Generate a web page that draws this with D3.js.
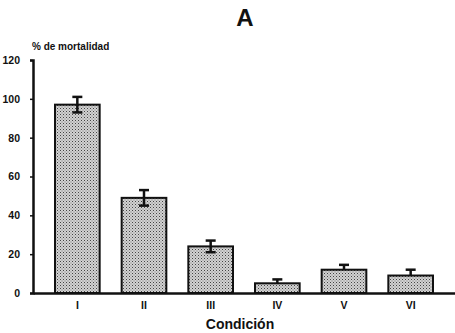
<!DOCTYPE html>
<html>
<head>
<meta charset="utf-8">
<script src="https://cdn.jsdelivr.net/npm/d3@7"></script>
<style>
    body { margin: 0; background: #fff; }
    svg text { font-family: "Liberation Sans", Arial, sans-serif; font-weight: bold; fill: #111; }
</style>
</head>
<body>
<div id="chart"></div>
<script>
(function () {

    'use strict';

    var categories = ['I', 'II', 'III', 'IV', 'V', 'VI'];
    var mortality = [97, 49, 24, 5, 12, 9];
    var errUp = [4, 4, 3, 2, 2.5, 3];
    var errDown = [4, 4, 3, 0, 0, 0];
    var yTicks = [0, 20, 40, 60, 80, 100, 120];

    var width = 455, height = 333;

    var svg = d3.select('#chart')
        .append('svg')
            .attr('width', width)
            .attr('height', height);

    // stipple pattern for the bars
    var defs = svg.append('defs');
    var pat = defs.append('pattern')
        .attr('id', 'dots')
        .attr('patternUnits', 'userSpaceOnUse')
        .attr('width', 3)
        .attr('height', 3);
    pat.append('rect').attr('width', 3).attr('height', 3).attr('fill', '#d2d2d2');
    pat.append('rect').attr('x', 0).attr('y', 0).attr('width', 1).attr('height', 1).attr('fill', '#444');
    pat.append('rect').attr('x', 1.5).attr('y', 1.5).attr('width', 1).attr('height', 1).attr('fill', '#777');

    var x = d3.scaleBand()
        .domain(categories)
        .range([33, 455])
        .paddingInner(0.33)
        .paddingOuter(0.33);

    var y = d3.scaleLinear()
        .domain([0, 120])
        .range([293, 60]);

    var cx = function (i) { return x(categories[i]) + x.bandwidth() / 2; };

    // bars
    svg.selectAll('rect.bar')
        .data(mortality)
        .enter()
        .append('rect')
            .attr('class', 'bar')
            .attr('x', function (d, i) { return x(categories[i]); })
            .attr('y', function (d) { return y(d); })
            .attr('width', x.bandwidth())
            .attr('height', function (d) { return y(0) - y(d); })
            .attr('fill', 'url(#dots)')
            .attr('stroke', '#111')
            .attr('stroke-width', 2);

    // error bars
    var eb = svg.selectAll('g.err')
        .data(mortality)
        .enter()
        .append('g')
            .attr('class', 'err');

    eb.append('line')
        .attr('x1', function (d, i) { return cx(i); })
        .attr('x2', function (d, i) { return cx(i); })
        .attr('y1', function (d, i) { return y(d + errUp[i]); })
        .attr('y2', function (d, i) { return y(d - errDown[i]); })
        .attr('stroke', '#111')
        .attr('stroke-width', 2.5);

    eb.append('line')
        .attr('x1', function (d, i) { return cx(i) - 5; })
        .attr('x2', function (d, i) { return cx(i) + 5; })
        .attr('y1', function (d, i) { return y(d + errUp[i]); })
        .attr('y2', function (d, i) { return y(d + errUp[i]); })
        .attr('stroke', '#111')
        .attr('stroke-width', 2.5);

    eb.append('line')
        .attr('x1', function (d, i) { return cx(i) - 5; })
        .attr('x2', function (d, i) { return cx(i) + 5; })
        .attr('y1', function (d, i) { return y(d - errDown[i]); })
        .attr('y2', function (d, i) { return y(d - errDown[i]); })
        .attr('stroke', '#111')
        .attr('stroke-width', 2.5)
        .style('display', function (d, i) { return errDown[i] > 0 ? null : 'none'; });

    // y axis
    var yAxis = d3.axisLeft(y)
        .tickValues(yTicks)
        .tickSize(3)
        .tickPadding(10);

    var yG = svg.append('g')
        .attr('transform', 'translate(33,0)')
        .call(yAxis);
    yG.select('.domain').attr('stroke', '#111').attr('stroke-width', 2.5);
    yG.selectAll('.tick line').attr('stroke', '#111').attr('stroke-width', 1.5);
    yG.selectAll('.tick text').attr('font-size', 10.5);

    // x axis
    var xAxis = d3.axisBottom(x)
        .tickSize(0)
        .tickPadding(9);

    var xG = svg.append('g')
        .attr('transform', 'translate(0,293)')
        .call(xAxis);
    xG.select('.domain').attr('stroke', '#111').attr('stroke-width', 2.5);
    xG.selectAll('.tick text').attr('font-size', 10.5);

    // texts
    svg.append('text')
        .attr('x', 245)
        .attr('y', 26)
        .attr('text-anchor', 'middle')
        .attr('font-size', 24)
        .text('A');

    svg.append('text')
        .attr('x', 32)
        .attr('y', 50)
        .attr('font-size', 10)
        .text('% de mortalidad');

    svg.append('text')
        .attr('x', 240)
        .attr('y', 329)
        .attr('text-anchor', 'middle')
        .attr('font-size', 14)
        .text('Condición');

}());
</script>
</body>
</html>
